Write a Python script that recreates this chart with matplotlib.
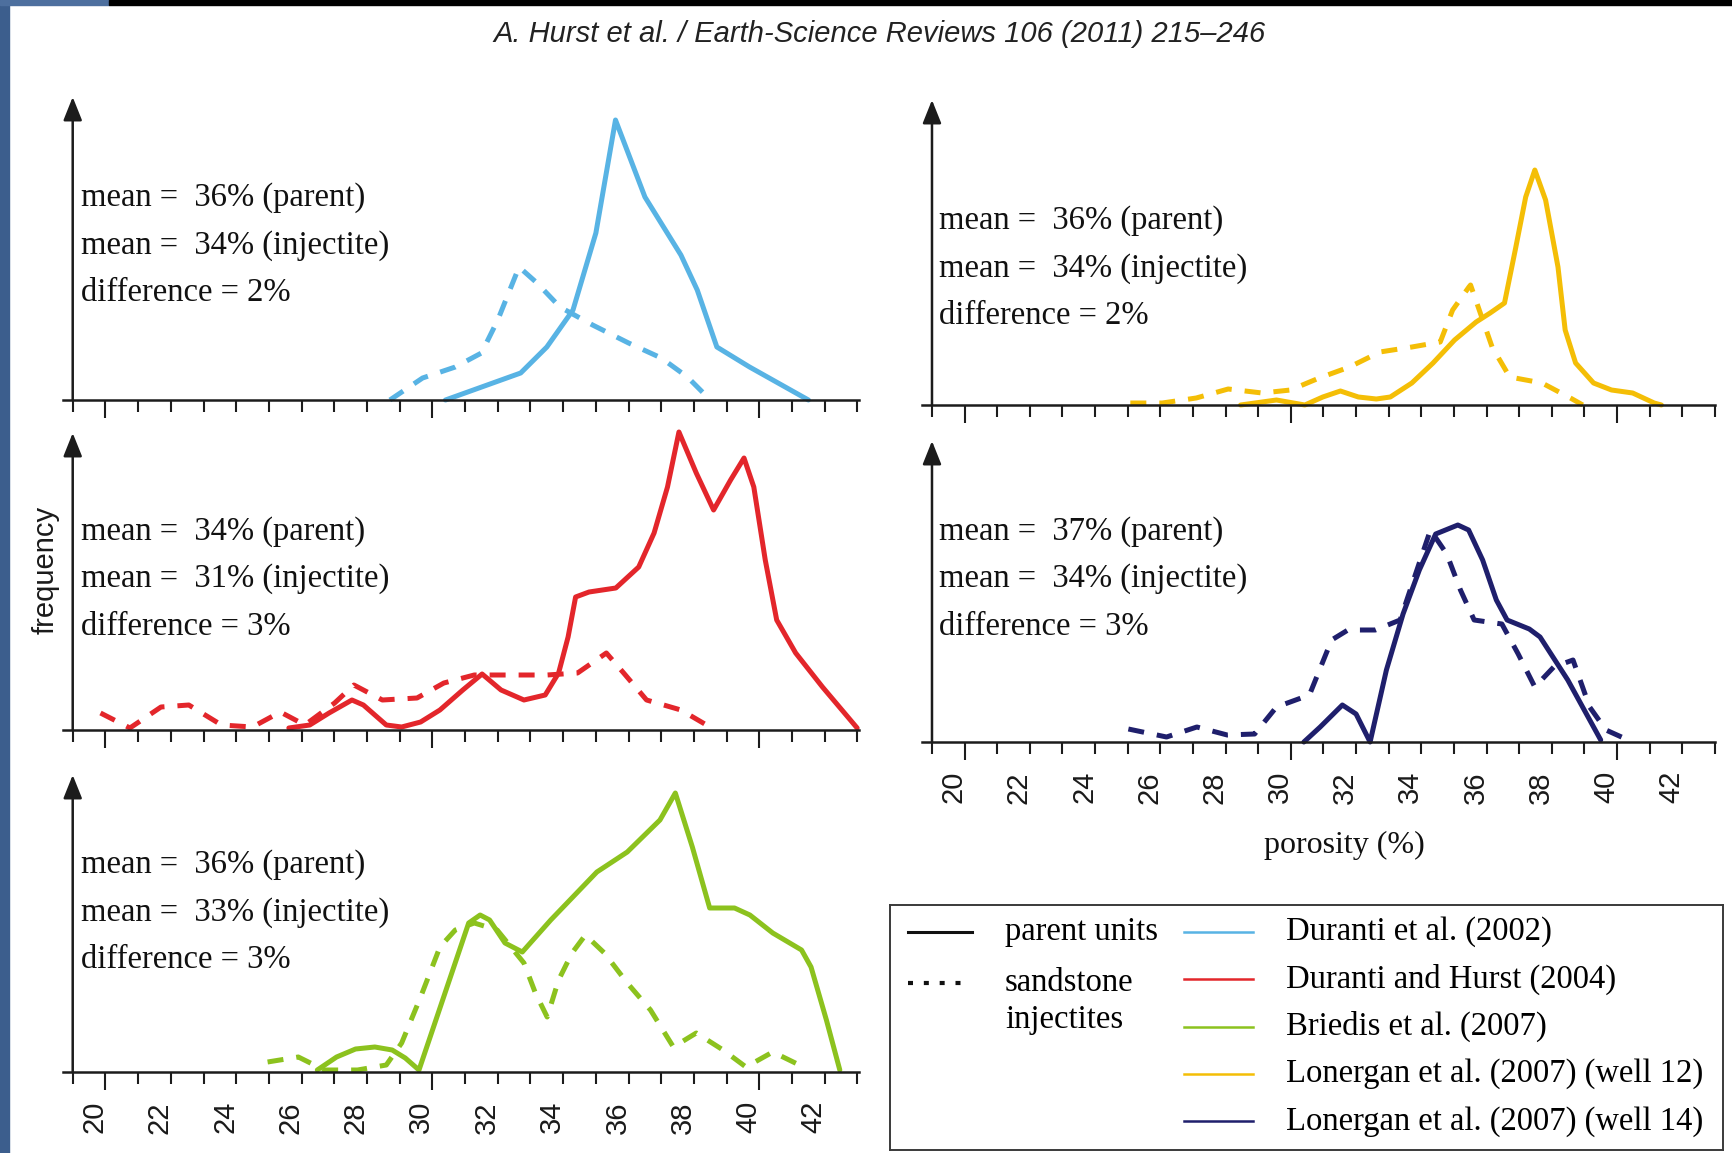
import matplotlib
matplotlib.use("Agg")
import matplotlib.pyplot as plt
from matplotlib.patches import Rectangle
from matplotlib import transforms

# porosity distributions: parent units (solid) vs sandstone injectites (dashed)
# frequency in arbitrary units, porosity in %
blue_parent_x = [30.4, 32.7, 33.5, 34.3, 35.0, 35.6, 36.5, 37.6, 38.1, 38.7, 39.7, 41.5]
blue_parent_y = [0, 2.7, 5.3, 9.0, 16.7, 28.0, 20.3, 14.5, 11.0, 5.3, 3.3, 0]
blue_inject_x = [28.7, 29.7, 30.7, 31.5, 32.0, 32.65, 33.2, 33.9, 34.9, 36.0, 37.0, 37.8, 38.5]
blue_inject_y = [0, 2.2, 3.3, 4.7, 8.0, 13.3, 11.7, 9.3, 7.5, 5.7, 4.2, 2.3, 0]

yellow_parent_x = [28.46, 29.56, 30.43, 30.98, 31.52, 32.07, 32.62, 33.05, 33.71, 34.36, 35.02,
                   35.68, 36.11, 36.55, 36.88, 37.2, 37.48, 37.81, 38.19, 38.41, 38.73, 39.28,
                   39.83, 40.48, 41.14, 41.36]
yellow_parent_y = [0, 0.5, 0, 0.8, 1.4, 0.8, 0.6, 0.8, 2.2, 4.2, 6.5, 8.3, 9.2, 10.2, 15.5,
                   20.8, 23.5, 20.5, 13.8, 7.5, 4.2, 2.2, 1.5, 1.2, 0.2, 0]
yellow_inject_x = [25.08, 26.06, 27.1, 28.08, 29.12, 29.99, 30.87, 31.8, 32.73, 33.71, 34.58,
                   34.96, 35.46, 35.51, 36.17, 36.71, 37.7, 38.57, 38.95]
yellow_inject_y = [0.2, 0.2, 0.7, 1.6, 1.2, 1.5, 2.7, 3.8, 5.3, 5.8, 6.3, 9.5, 11.8, 12.0, 5.8,
                   2.8, 2.2, 0.7, 0]

red_parent_x = [25.61, 26.25, 26.84, 27.54, 27.89, 28.59, 29.06, 29.64, 30.23, 30.93, 31.52,
                32.1, 32.8, 33.45, 33.86, 34.15, 34.38, 34.79, 35.61, 36.31, 36.78, 37.19,
                37.54, 38.07, 38.6, 39.12, 39.53, 39.83, 40.18, 40.53, 41.11, 41.93, 42.99]
red_parent_y = [0.2, 0.5, 1.7, 3.0, 2.5, 0.5, 0.3, 0.8, 2.0, 4.0, 5.6, 4.0, 3.0, 3.5, 5.7, 9.3,
                13.3, 13.8, 14.2, 16.3, 19.7, 24.3, 29.8, 25.7, 22.0, 25.0, 27.2, 24.3, 17.0,
                11.0, 7.7, 4.3, 0.2]
red_inject_x = [19.85, 20.75, 21.7, 22.55, 23.55, 24.5, 25.35, 26.1, 27.01, 27.6, 28.47, 29.53,
                30.35, 31.28, 32.34, 33.51, 34.44, 35.32, 35.85, 36.55, 37.6, 38.54]
red_inject_y = [1.7, 0.2, 2.3, 2.5, 0.5, 0.3, 1.8, 0.5, 2.7, 4.5, 3.0, 3.2, 4.7, 5.5, 5.5, 5.5,
                5.7, 7.7, 5.7, 3.0, 2.0, 0.2]

navy_parent_x = [30.4, 30.9, 31.58, 32.0, 32.43, 32.93, 33.44, 33.94, 34.44, 35.12, 35.45,
                 35.88, 36.3, 36.63, 37.31, 37.64, 38.49, 39.5]
navy_parent_y = [0, 1.5, 3.7, 2.8, 0, 7.2, 12.8, 17.2, 20.8, 21.7, 21.2, 18.2, 14.2, 12.2,
                 11.3, 10.5, 6.2, 0.2]
navy_inject_x = [25.02, 26.19, 27.12, 28.05, 28.89, 29.56, 30.57, 31.25, 31.75, 32.59, 33.35,
                 33.69, 34.28, 34.78, 35.2, 35.62, 36.47, 36.97, 37.48, 38.06, 38.65, 39.16,
                 39.66, 40.34]
navy_inject_y = [1.3, 0.5, 1.5, 0.7, 0.8, 3.5, 4.7, 10.2, 11.2, 11.2, 12.2, 15.5, 21.2, 18.8,
                 15.2, 12.2, 11.8, 8.8, 5.5, 7.5, 8.2, 3.5, 1.2, 0.2]

green_parent_x = [26.48, 27.07, 27.65, 28.24, 28.77, 29.17, 29.59, 31.11, 31.46, 31.75, 32.22,
                  32.75, 33.62, 35.03, 35.96, 36.96, 37.43, 37.95, 38.48, 39.24, 39.71, 40.41,
                  41.29, 41.58, 42.05, 42.46]
green_parent_y = [0.2, 1.5, 2.3, 2.5, 2.2, 1.4, 0.2, 14.9, 15.7, 15.2, 12.9, 12.0, 15.2, 20.0,
                  22.0, 25.2, 27.9, 22.5, 16.4, 16.4, 15.7, 13.9, 12.2, 10.5, 5.2, 0.2]
green_inject_x = [24.96, 25.9, 26.7, 27.71, 28.59, 29.06, 29.64, 30.23, 30.7, 31.28, 31.98,
                  32.8, 33.15, 33.51, 33.86, 34.27, 34.68, 35.26, 35.96, 36.67, 37.37, 38.07,
                  38.89, 39.59, 40.41, 41.35]
green_inject_y = [1.0, 1.5, 0.2, 0.2, 0.7, 2.9, 7.5, 12.5, 14.2, 14.9, 14.2, 10.9, 7.9, 5.5,
                  9.2, 11.9, 13.7, 11.9, 8.9, 6.2, 2.5, 3.9, 2.2, 0.5, 2.0, 0.5]

stats_blue = ["mean =  36% (parent)", "mean =  34% (injectite)", "difference = 2%"]
stats_yellow = ["mean =  36% (parent)", "mean =  34% (injectite)", "difference = 2%"]
stats_red = ["mean =  34% (parent)", "mean =  31% (injectite)", "difference = 3%"]
stats_navy = ["mean =  37% (parent)", "mean =  34% (injectite)", "difference = 3%"]
stats_green = ["mean =  36% (parent)", "mean =  33% (injectite)", "difference = 3%"]

sources = ["Duranti et al. (2002)", "Duranti and Hurst (2004)", "Briedis et al. (2007)",
           "Lonergan et al. (2007) (well 12)", "Lonergan et al. (2007) (well 14)"]
porosity_labels = list(range(20, 43, 2))

C_BLUE = "#58b3e4"
C_RED = "#e3262b"
C_GREEN = "#8cc21e"
C_YELLOW = "#f4be06"
C_NAVY = "#1f1f6c"
AX_COL = "#1c1c1c"
SERIF = "Liberation Serif"

W, H = 1733, 1153
fig = plt.figure(figsize=(W / 100, H / 100), dpi=100)
fig.patch.set_facecolor("white")

# slide background strip and top bar
fig.add_artist(Rectangle((0, 0), 9 / W, 1, transform=fig.transFigure, color="#3c5e8d", zorder=5))
fig.add_artist(Rectangle((0, 1 - 5 / H), 109 / W, 5 / H, transform=fig.transFigure,
                         color="#4d6f9e", zorder=5))
fig.add_artist(Rectangle((109 / W, 1 - 5 / H), 1 - 109 / W, 5 / H, transform=fig.transFigure,
                         color="black", zorder=5))


def panel(x0, x1, top, base):
    # axes rectangle given in pixel coords (top-left origin)
    return fig.add_axes([x0 / W, 1 - base / H, (x1 - x0) / W, (base - top) / H])


def style(ax, xlim, ytop):
    ax.set_xlim(*xlim)
    ax.set_ylim(0, ytop)
    ax.patch.set_alpha(0)
    for s in ["top", "right", "left"]:
        ax.spines[s].set_visible(False)
    ax.spines["bottom"].set_color(AX_COL)
    ax.spines["bottom"].set_linewidth(1.8)
    ax.set_yticks([])
    ax.set_xticks([20, 30, 40])
    ax.set_xticks([v for v in range(19, 44) if v not in (20, 30, 40)], minor=True)
    ax.tick_params(axis="x", which="major", length=13, width=1.5, direction="out",
                   color=AX_COL, labelbottom=False)
    ax.tick_params(axis="x", which="minor", length=8.5, width=1.5, direction="out",
                   color=AX_COL, labelbottom=False)
    ax.annotate("", xy=(19, ytop), xytext=(19, 0),
                arrowprops=dict(arrowstyle="-|>,head_length=0.55,head_width=0.22",
                                mutation_scale=26, lw=1.8, color=AX_COL,
                                shrinkA=0, shrinkB=0),
                annotation_clip=False)


def curves(ax, px, py, ix, iy, color):
    ax.plot(ix, iy, color=color, lw=3.6, ls=(0, (3.2, 2.6)), dash_capstyle="butt", clip_on=False)
    ax.plot(px, py, color=color, lw=3.6, solid_joinstyle="round", solid_capstyle="round",
            clip_on=False)


def stats(x, y0, lines):
    for i, s in enumerate(lines):
        fig.text(x / W, 1 - (y0 + i * 47.5) / H, s, ha="left", va="center",
                 fontsize=23.5, family=SERIF, color="#111111")


def xlabels(ax):
    off = transforms.ScaledTranslation(0, -29 / 100, fig.dpi_scale_trans)
    for v in porosity_labels:
        ax.text(v - 0.34, 0, str(v), transform=ax.get_xaxis_transform() + off,
                rotation=90, ha="center", va="top", fontsize=21,
                family="Liberation Sans", color="#1a1a1a")


LEFT = (18.7, 43.05)
RIGHT = (18.7, 42.95)
lx0, lx1 = 62.9, 859.1
rx0, rx1 = 922.2, 1714.9

ax_tl = panel(lx0, lx1, 97, 400)
style(ax_tl, LEFT, 30.3)
curves(ax_tl, blue_parent_x, blue_parent_y, blue_inject_x, blue_inject_y, C_BLUE)
stats(81, 198, stats_blue)

ax_tr = panel(rx0, rx1, 100, 405)
style(ax_tr, RIGHT, 30.5)
curves(ax_tr, yellow_parent_x, yellow_parent_y, yellow_inject_x, yellow_inject_y, C_YELLOW)
stats(939, 221, stats_yellow)

ax_ml = panel(lx0, lx1, 433, 730)
style(ax_ml, LEFT, 29.7)
curves(ax_ml, red_parent_x, red_parent_y, red_inject_x, red_inject_y, C_RED)
stats(81, 531.5, stats_red)

ax_mr = panel(rx0, rx1, 441, 742)
style(ax_mr, RIGHT, 30.1)
curves(ax_mr, navy_parent_x, navy_parent_y, navy_inject_x, navy_inject_y, C_NAVY)
stats(939, 531.5, stats_navy)
xlabels(ax_mr)

ax_bl = panel(lx0, lx1, 775, 1072)
style(ax_bl, LEFT, 29.7)
curves(ax_bl, green_parent_x, green_parent_y, green_inject_x, green_inject_y, C_GREEN)
stats(81, 865, stats_green)
xlabels(ax_bl)

fig.text(46 / W, 1 - 570 / H, "frequency", rotation=90, ha="center", va="center",
         fontsize=21, family="Liberation Sans", color="#1a1a1a")
fig.text(1344 / W, 1 - 845 / H, "porosity (%)", ha="center", va="center",
         fontsize=23, family=SERIF, color="#111111")

fig.text(880 / W, 1 - 34 / H, "A. Hurst et al. / Earth-Science Reviews 106 (2011) 215\u2013246",
         ha="center", va="center", fontsize=21, style="italic",
         family="Liberation Sans", color="#222222")

# legend box, drawn in pixel coordinates
leg = fig.add_axes([890 / W, 1 - 1150 / H, (1723 - 890) / W, (1150 - 905) / H])
leg.set_xlim(890, 1723)
leg.set_ylim(1150, 905)
leg.set_xticks([])
leg.set_yticks([])
for s in leg.spines.values():
    s.set_color("#3a3a3a")
    s.set_linewidth(1.4)
leg.plot([908, 972], [932, 932], color="#111111", lw=2.2)
leg.plot([908, 966], [983, 983], color="#111111", lw=3, ls=(0, (1.2, 2.6)))
leg.text(1005, 932, "parent units", va="center", ha="left", fontsize=23.5, family=SERIF)
leg.text(1005, 983, "sandstone", va="center", ha="left", fontsize=23.5, family=SERIF)
leg.text(1005, 1020, "injectites", va="center", ha="left", fontsize=23.5, family=SERIF)
for i, (name, col) in enumerate(zip(sources, [C_BLUE, C_RED, C_GREEN, C_YELLOW, C_NAVY])):
    yy = 932 + i * 47.3
    leg.plot([1184, 1253], [yy, yy], color=col, lw=1.8)
    leg.text(1286, yy, name, va="center", ha="left", fontsize=23.5, family=SERIF)

fig.savefig("out.png", dpi=100, facecolor="white")
